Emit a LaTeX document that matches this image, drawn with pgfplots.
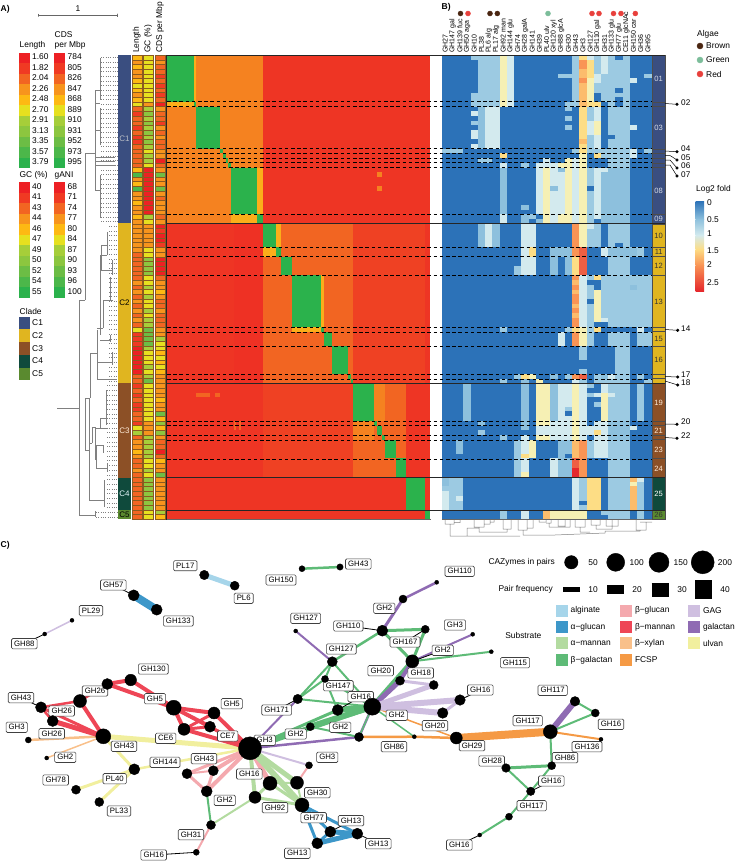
\documentclass[border=0pt]{standalone}
\usepackage{pgfplots}
\pgfplotsset{compat=1.18}
\usepackage{fontspec}
\setmainfont{Liberation Sans}
\definecolor{A0}{HTML}{ED2024}\definecolor{A1}{HTML}{F03A23}\definecolor{A2}{HTML}{F26522}\definecolor{A3}{HTML}{F7941D}
\definecolor{A4}{HTML}{FDB913}\definecolor{A5}{HTML}{E6E01F}\definecolor{A6}{HTML}{A6CE39}\definecolor{A7}{HTML}{8CC63F}
\definecolor{A8}{HTML}{6CBD45}\definecolor{A9}{HTML}{4CB74A}\definecolor{A10}{HTML}{2BB24C}
\definecolor{B0}{HTML}{2C72B8}\definecolor{B1}{HTML}{8DC0DD}\definecolor{B2}{HTML}{9CCAE2}\definecolor{B3}{HTML}{D3EAEE}
\definecolor{B4}{HTML}{F6F0B4}\definecolor{B5}{HTML}{FDDD85}\definecolor{B6}{HTML}{FCBC6C}\definecolor{B7}{HTML}{F99455}
\definecolor{B8}{HTML}{EE5F43}\definecolor{B9}{HTML}{E5282C}
\definecolor{Ca}{HTML}{3A4E80}\definecolor{Cb}{HTML}{E0B520}\definecolor{Cc}{HTML}{8C5026}\definecolor{Cd}{HTML}{0F4A3C}\definecolor{Ce}{HTML}{5A8A2F}
\definecolor{sepc}{HTML}{8A5A20}
\definecolor{hR}{HTML}{EE3524}\definecolor{hO}{HTML}{F58220}\definecolor{hM}{HTML}{F26522}\definecolor{hN}{HTML}{EF4123}\definecolor{hY}{HTML}{FBAE1A}\definecolor{hG}{HTML}{2BB24C}\definecolor{hD}{HTML}{EE3124}
\definecolor{alg}{HTML}{A6D5EA}\definecolor{agl}{HTML}{3D97C9}\definecolor{ama}{HTML}{B3DBA0}\definecolor{bga}{HTML}{5EBB77}
\definecolor{bgl}{HTML}{F4A9AE}\definecolor{bma}{HTML}{EE4656}\definecolor{bxy}{HTML}{F9C08A}\definecolor{fcs}{HTML}{F59A45}
\definecolor{gag}{HTML}{CFBFE0}\definecolor{gal}{HTML}{8F6BB3}\definecolor{ulv}{HTML}{F1EF9E}
\definecolor{dBr}{HTML}{4A2511}\definecolor{dGr}{HTML}{7CBD9A}\definecolor{dRe}{HTML}{E8403C}
\newcommand\Rect[5]{\pgfmathsetmacro\xa{#1}\pgfmathsetmacro\ya{#2}\pgfmathsetmacro\xb{#3}\pgfmathsetmacro\yb{#4}%
 \edef\tmp{\noexpand\addplot[draw=none,fill=#5,forget plot] coordinates {(\xa,\ya)(\xb,\ya)(\xb,\yb)(\xa,\yb)} -- cycle;}\tmp}
\newcommand\RectD[5]{\pgfmathsetmacro\xa{#1}\pgfmathsetmacro\ya{#2}\pgfmathsetmacro\xb{#3}\pgfmathsetmacro\yb{#4}%
 \edef\tmp{\noexpand\addplot[draw=sepc,line width=0.3pt,fill=#5,forget plot] coordinates {(\xa,\ya)(\xb,\ya)(\xb,\yb)(\xa,\yb)} -- cycle;}\tmp}
\newcommand\HA[5]{\Rect{167+2.66*(#3)}{55+4.69*(#1)}{167+2.66*(#4)}{55+4.69*(#2)}{#5}}
\newcommand\HB[5]{\Rect{441.7+7.24*(#3)}{55+4.69*(#1)}{441.7+7.24*(#4)}{55+4.69*(#2)}{#5}}
\def\cc{0}
\newcommand\bk[3]{\HB{#1}{#2}{\cc}{\cc+1}{B#3}}
\newcommand\sr[2]{\HB{#1}{#1+1}{\cc}{\cc+1}{B#2}}
\newcommand\Txt[5]{\node[anchor=#3,inner sep=0pt,font=\fontsize{#4}{#4}\selectfont] at (axis cs:#1,#2) {#5};}
\newcommand\Lab[3]{\node[draw=black!75,line width=0.6pt,fill=white,rounded corners=1.3pt,inner xsep=2.6pt,inner ysep=2.4pt,font=\fontsize{7.8}{7.8}\selectfont] at (axis cs:#2,#3) {#1};}
\newcount\rowc
\newcommand\Annot[3]{\rowc=0 \pgfplotsforeachungrouped \vv in {#3}{\RectD{#1}{55+4.69*\the\rowc}{#2}{55+4.69*(\the\rowc+1)}{A\vv}\global\advance\rowc by 1 }}
\newcommand\allnodes{}
\newcommand\Pt[4]{\expandafter\def\csname pt#1\endcsname{#2,#3}\expandafter\def\csname rd#1\endcsname{#4}\expandafter\def\expandafter\allnodes\expandafter{\allnodes\Dn{#1}}}
\newcommand\Dn[1]{\edef\tmp{\noexpand\addplot[only marks,mark=*,mark size=\csname rd#1\endcsname pt,black,forget plot] coordinates {(\csname pt#1\endcsname)};}\tmp}
\newcommand\Ed[4]{\edef\tmp{\noexpand\addplot[color=#1,line width=#2pt,forget plot] coordinates {(\csname pt#3\endcsname)(\csname pt#4\endcsname)};}\tmp}
\newcommand\Ld[3]{\edef\tmp{\noexpand\addplot[color=black,line width=0.8pt,forget plot] coordinates {(#2,#3)(\csname pt#1\endcsname)};}\tmp}
\Pt{pls}{204.3}{575}{4.7}\Pt{psx}{234.7}{585.7}{4.5}\Pt{g150}{302}{568.7}{3}\Pt{g43t}{340}{567}{3.2}
\Pt{g57}{133.7}{595.3}{5.5}\Pt{g133}{156.7}{609.7}{5.5}\Pt{p29}{72}{620.3}{2}\Pt{g88}{44.7}{634}{2}
\Pt{g130}{130.7}{680}{5.8}\Pt{g26a}{107.3}{684}{5.5}\Pt{g26b}{80}{701}{6.5}\Pt{g43l}{41}{707.3}{5.5}
\Pt{g26c}{52.7}{721}{5.5}\Pt{hubl}{103.3}{736.3}{7.5}\Pt{g3s}{28.3}{740}{3}\Pt{g2s}{46.7}{758}{2}
\Pt{g5}{173.7}{707.7}{7.5}\Pt{g5b}{214}{713}{6}\Pt{ce7}{210}{726.7}{5.5}\Pt{ce6}{184}{729.3}{6}
\Pt{hub}{250}{748.3}{11.5}\Pt{p40}{134.3}{769.3}{5.5}\Pt{g78}{76}{789.7}{4.5}\Pt{p33}{99.3}{802}{4.5}
\Pt{g144}{187}{773.7}{5}\Pt{g43c}{213.3}{770.7}{5}\Pt{g2b}{206.7}{791.3}{5.5}\Pt{g31}{211}{825}{4.5}
\Pt{g16bot}{196.3}{852.3}{3}\Pt{g92}{255}{797.3}{6}\Pt{g16b}{270}{783.3}{7}\Pt{g30}{297}{782.7}{6.5}
\Pt{g3c}{309}{765.3}{3.5}\Pt{g77}{302}{805}{7}\Pt{g13a}{330.3}{831.7}{5.5}\Pt{g13b}{357.3}{833.7}{5.5}
\Pt{g13c}{317.3}{843.3}{5.5}\Pt{g171}{297.7}{699}{4.7}\Pt{g127b}{332.3}{661.7}{5}\Pt{g127a}{295.7}{631}{2}
\Pt{g147}{325}{679}{3.5}\Pt{g2c}{337.7}{710}{5.5}\Pt{hubm}{372.3}{706.7}{8.5}\Pt{g2d}{310.3}{726.7}{4}\Pt{g2e}{359}{737}{4.5}
\Pt{g110t}{436.7}{582.3}{2}\Pt{g2t}{403}{599}{4}\Pt{g110}{382.3}{630.7}{5.5}\Pt{g167}{425.3}{629.3}{4}
\Pt{g3r}{472.7}{634.3}{2}\Pt{g2h}{412.3}{661.3}{6.5}\Pt{g115}{491.3}{651.7}{2}\Pt{g20}{400}{680.7}{4.5}
\Pt{g18}{433.7}{685}{4.5}\Pt{g16}{460}{700}{5.3}\Pt{g20b}{442.7}{713}{5.3}\Pt{g86}{414.3}{736.7}{2}
\Pt{g29}{456.3}{738}{6}\Pt{g117a}{550.3}{731.7}{7}\Pt{g117b}{575}{701.3}{4.8}\Pt{g16r}{595.3}{713}{4}
\Pt{g136}{601}{739.3}{2}\Pt{g86r}{551.7}{765.7}{4}\Pt{g28}{506}{768}{4.3}\Pt{g16c}{530.7}{791.3}{4.2}
\Pt{g117c}{509}{816.7}{3.5}\Pt{g16d}{479.7}{835}{2}
\begin{document}
\begin{tikzpicture}
\path[use as bounding box] (0,0) rectangle (735pt,863pt);
\begin{axis}[at={(0,0)},anchor=south west,width=735pt,height=863pt,scale only axis,hide axis,clip=false,
 xmin=0,xmax=735,ymin=0,ymax=863,y dir=reverse]
% ---------- heatmap A
\HA{0}{99}{0}{99}{hR}
\HA{0}{36}{0}{36}{hO}
\HA{36}{70}{25}{36}{hD}
\HA{36}{70}{36}{70}{hM}
\HA{36}{70}{70}{99}{hN}
\HA{70}{90}{36}{70}{hN}
\HA{70}{90}{70}{90}{hM}
\HA{97}{99}{0}{97}{hR}
\HA{0}{99}{97}{99}{hR}
% neighbour blocks
\HA{10}{11}{0}{10}{hY}\HA{0}{10}{10}{11}{hY}
\HA{34}{36}{24}{34}{hY}\HA{24}{34}{34}{36}{hY}
\HA{41}{43}{36}{41}{hY}\HA{36}{41}{41}{43}{hY}
\HA{58}{59}{47}{58}{hY}\HA{47}{58}{58}{59}{hY}
\HA{78}{82}{70}{78}{hO}\HA{70}{78}{78}{82}{hO}
\HA{25}{26}{79}{81}{hO}\HA{28}{29}{79}{81}{hO}
\HA{72}{73}{11}{16}{hM}\HA{72}{73}{18}{20}{hM}
\HA{78}{80}{25}{26}{hM}\HA{78}{80}{27}{28}{hM}
% diagonal
\def\dg#1#2{\HA{#1}{#2}{#1}{#2}{hG}}
\dg{0}{10}\dg{10}{11}\dg{11}{20}\dg{20}{21}\dg{21}{22}\dg{22}{23}\dg{23}{24}\dg{24}{34}\dg{34}{36}
\dg{36}{41}\dg{41}{43}\dg{43}{47}\dg{47}{58}\dg{58}{59}\dg{59}{62}\dg{62}{68}\dg{68}{69}\dg{69}{70}
\dg{70}{78}\dg{78}{79}\dg{79}{81}\dg{81}{82}\dg{82}{86}\dg{86}{90}\dg{90}{97}\dg{97}{99}
% ---------- heatmap B
\HB{0}{99}{0}{29}{B0}
\def\cc{0}\sr{20}{2}\bk{90}{92}{1}\sr{92}{2}\bk{93}{97}{3}
\def\cc{1}\sr{20}{2}\bk{90}{97}{2}
\def\cc{2}\sr{20}{2}\bk{90}{97}{2}\sr{94}{3}\bk{82}{85}{1}
\def\cc{3}\bk{70}{78}{1}
\def\cc{4}\sr{0}{2}\bk{8}{11}{2}\sr{12}{3}\sr{14}{2}\bk{16}{18}{3}\sr{19}{3}
\def\cc{5}\bk{0}{11}{2}\bk{11}{20}{1}\sr{22}{2}\bk{36}{41}{1}\sr{78}{1}\sr{80}{2}
\def\cc{6}\bk{0}{11}{2}\bk{11}{20}{3}\sr{22}{2}\bk{36}{41}{3}
\def\cc{7}\bk{0}{11}{2}\bk{11}{20}{3}\bk{36}{41}{1}
\def\cc{8}\bk{0}{11}{4}\sr{21}{5}\sr{23}{3}\bk{24}{34}{1}\bk{34}{36}{3}\sr{58}{2}\sr{69}{2}\sr{81}{2}\bk{97}{99}{2}
\def\cc{9}\bk{0}{11}{3}
\def\cc{10}\bk{45}{47}{2}\sr{68}{2}\bk{82}{90}{2}
\def\cc{11}\sr{23}{2}\sr{32}{1}\bk{34}{36}{1}\bk{36}{47}{3}\sr{68}{5}\sr{69}{1}\bk{70}{80}{1}\sr{81}{3}\bk{82}{90}{3}\sr{85}{5}\sr{89}{4}\bk{97}{99}{3}
\def\cc{12}\sr{34}{2}\bk{36}{41}{3}\bk{41}{43}{5}\bk{43}{47}{3}\sr{68}{4}\bk{82}{86}{4}
\def\cc{13}\sr{23}{3}\bk{24}{34}{3}\sr{35}{1}\sr{69}{4}\bk{70}{82}{4}\bk{79}{81}{3}
\def\cc{14}\bk{22}{24}{3}\bk{24}{36}{4}\bk{70}{79}{4}\bk{79}{81}{3}\sr{81}{4}\bk{97}{99}{6}
\def\cc{15}\sr{23}{3}\bk{24}{36}{3}\sr{28}{1}\bk{41}{47}{1}\sr{68}{1}\bk{70}{78}{1}\bk{78}{82}{3}\bk{86}{90}{3}\bk{97}{99}{4}
\def\cc{16}\sr{4}{2}\sr{23}{4}\sr{24}{1}\bk{25}{34}{3}\bk{34}{36}{4}\bk{41}{43}{1}\bk{59}{62}{3}\bk{70}{82}{3}\bk{82}{90}{1}\bk{97}{99}{4}
\def\cc{17}\sr{4}{2}\sr{10}{2}\sr{11}{2}\sr{13}{2}\sr{15}{2}\bk{22}{36}{4}\bk{41}{47}{1}\sr{58}{2}\sr{68}{2}\bk{70}{75}{3}\sr{75}{2}\sr{77}{3}\bk{78}{82}{3}\bk{82}{85}{1}\bk{86}{90}{1}\bk{97}{99}{4}
\def\cc{18}\bk{0}{11}{2}\sr{20}{2}\bk{22}{24}{3}\bk{24}{36}{3}\bk{36}{43}{7}\bk{43}{47}{5}\bk{47}{58}{7}\sr{48}{6}\sr{50}{6}\sr{53}{6}\sr{55}{6}\sr{58}{5}\bk{59}{62}{7}\sr{68}{7}\sr{69}{3}\bk{70}{82}{4}\bk{82}{86}{6}\bk{86}{88}{8}\bk{88}{90}{9}\bk{90}{97}{3}\bk{97}{99}{4}
\def\cc{19}\bk{0}{11}{6}\sr{0}{5}\bk{1}{3}{7}\sr{5}{7}\bk{11}{21}{5}\sr{18}{6}\bk{21}{41}{4}\bk{41}{47}{8}\bk{47}{58}{3}\sr{58}{4}\bk{59}{62}{4}\bk{62}{65}{2}\sr{67}{2}\sr{68}{8}\sr{69}{2}\bk{70}{82}{3}\bk{82}{90}{7}\bk{90}{95}{2}\sr{96}{2}\bk{97}{99}{4}
\def\cc{20}\sr{0}{3}\bk{1}{5}{5}\bk{5}{10}{4}\sr{10}{5}\bk{11}{21}{2}\bk{14}{17}{3}\bk{24}{28}{2}\bk{29}{36}{2}\sr{36}{3}\bk{37}{41}{2}\sr{47}{2}\bk{49}{52}{2}\bk{53}{59}{2}\bk{59}{62}{2}\sr{70}{2}\sr{72}{2}\bk{79}{81}{3}\bk{82}{86}{2}\bk{90}{97}{5}
\def\cc{21}\bk{0}{4}{2}\bk{4}{6}{3}\bk{6}{8}{2}\sr{10}{5}\bk{11}{20}{3}\bk{14}{17}{4}\sr{20}{2}\sr{21}{5}\bk{24}{35}{3}\bk{36}{41}{2}\sr{47}{5}\bk{50}{57}{4}\sr{58}{5}\bk{68}{70}{2}\sr{72}{3}\sr{74}{2}\bk{78}{82}{3}\sr{80}{5}\bk{82}{86}{3}\bk{90}{97}{5}
\def\cc{22}\bk{0}{4}{3}\bk{4}{10}{2}\bk{20}{22}{2}\bk{24}{36}{1}\sr{24}{3}\bk{41}{43}{3}\bk{47}{57}{2}\sr{56}{3}\sr{68}{1}\sr{69}{2}\bk{70}{82}{3}\bk{72}{78}{4}\bk{82}{86}{3}\sr{97}{2}
\def\cc{23}\bk{0}{17}{2}\bk{18}{24}{2}\bk{24}{36}{1}\bk{36}{41}{2}\bk{41}{43}{1}\bk{43}{58}{2}\bk{59}{62}{2}\sr{68}{3}\sr{69}{2}\bk{70}{78}{2}\sr{72}{3}\bk{78}{82}{1}\bk{82}{99}{2}
\def\cc{24}\bk{1}{7}{2}\sr{8}{2}\bk{11}{24}{2}\bk{24}{36}{1}\bk{36}{40}{2}\bk{41}{43}{1}\bk{43}{58}{2}\bk{59}{70}{2}\bk{70}{78}{2}\bk{78}{82}{1}\bk{82}{99}{2}
\def\cc{25}\bk{0}{24}{2}\bk{24}{36}{1}\bk{36}{41}{2}\bk{41}{43}{1}\bk{43}{58}{2}\bk{59}{70}{2}\bk{70}{78}{2}\bk{78}{82}{1}\bk{82}{99}{2}
\def\cc{26}\sr{5}{3}\sr{15}{3}\sr{20}{3}\sr{21}{3}\bk{41}{43}{1}\bk{47}{49}{2}\sr{49}{1}\bk{50}{58}{2}\sr{79}{3}\bk{90}{97}{6}\sr{91}{4}
\def\cc{27}\bk{41}{43}{2}\bk{47}{58}{2}\sr{58}{3}\bk{59}{62}{2}\sr{68}{2}\bk{70}{78}{2}\sr{90}{3}\bk{91}{99}{2}
\def\cc{28}\sr{4}{2}\sr{20}{2}\bk{47}{58}{2}\bk{59}{62}{2}\sr{69}{2}
% ---------- annotation columns
\Annot{131.7}{141.7}{4,3,4,3,3,4,5,4,3,4,5,2,1,2,2,1,2,1,1,2,2,2,2,2,4,9,3,4,9,3,3,4,3,3,4,3,3,3,3,3,3,3,2,2,2,2,2,2,3,2,3,2,3,2,3,2,3,2,5,1,1,1,0,0,0,0,0,0,2,2,1,2,1,2,1,1,2,2,1,5,6,2,3,3,4,3,2,2,3,2,2,2,2,2,2,2,2,2,2}
\Annot{143.3}{153.3}{5,5,5,5,5,5,5,5,5,5,3,6,7,6,7,6,7,6,7,6,5,6,6,5,0,0,0,0,0,0,0,0,0,0,6,5,3,3,3,3,3,5,5,7,7,7,7,5,5,6,5,6,5,5,6,5,6,6,8,8,8,8,6,5,5,5,6,5,6,8,5,5,5,5,5,5,5,5,3,3,3,6,6,6,6,6,5,5,6,5,7,7,7,7,7,7,7,5,5}
\Annot{155}{165}{2,3,2,2,1,2,1,2,1,2,0,3,2,2,1,3,2,3,2,2,3,3,0,2,3,8,3,3,8,3,2,3,3,3,2,3,0,1,0,0,1,3,3,0,0,0,0,2,3,3,4,3,2,2,3,2,2,2,3,3,6,5,5,4,5,4,5,4,3,3,3,3,3,4,3,3,8,4,7,4,7,3,2,2,0,2,4,3,3,8,3,3,3,3,3,3,3,6,4}
% ---------- clade bar
\Rect{118}{55}{131}{223.3}{Ca}\Rect{118}{223.3}{131}{383.3}{Cb}\Rect{118}{383.3}{131}{477.7}{Cc}\Rect{118}{477.7}{131}{510.3}{Cd}\Rect{118}{510.3}{131}{519.3}{Ce}
% ---------- right bars
\newcommand\RB[3]{\pgfmathsetmacro\xa{652.3}\pgfmathsetmacro\ya{55+4.69*(#1)}\pgfmathsetmacro\yb{55+4.69*(#2)}\edef\tmp{\noexpand\addplot[draw=black!70,line width=0.5pt,fill=#3,forget plot] coordinates {(\xa,\ya)(665,\ya)(665,\yb)(\xa,\yb)} -- cycle;}\tmp}
\RB{0}{10}{Ca}\RB{10}{11}{Ca}\RB{11}{20}{Ca}\RB{20}{21}{Ca}\RB{21}{22}{Ca}\RB{22}{23}{Ca}\RB{23}{24}{Ca}\RB{24}{34}{Ca}\RB{34}{36}{Ca}
\RB{36}{41}{Cb}\RB{41}{43}{Cb}\RB{43}{47}{Cb}\RB{47}{58}{Cb}\RB{58}{59}{Cb}\RB{59}{62}{Cb}\RB{62}{68}{Cb}\RB{68}{69}{Cb}\RB{69}{70}{Cb}
\RB{70}{78}{Cc}\RB{78}{79}{Cc}\RB{79}{81}{Cc}\RB{81}{82}{Cc}\RB{82}{86}{Cc}\RB{86}{90}{Cc}\RB{90}{97}{Cd}\RB{97}{99}{Ce}
% ---------- tree
\addplot[color=black!50,line width=0.6pt,unbounded coords=jump,forget plot] coordinates {
(100,58)(100,100)(nan,nan)(95,90)(100,90)(nan,nan)(95,103)(100,103)(nan,nan)(95,90)(95,190)(nan,nan)(100,108)(100,145)(nan,nan)(95,130)(100,130)(nan,nan)
(95,157)(115,157)(nan,nan)(95,161)(115,161)(nan,nan)(95,165)(115,165)(nan,nan)(85,153)(95,153)(nan,nan)(85,153)(85,300)(nan,nan)(79,300)(85,300)(nan,nan)(79,300)(79,515)(nan,nan)
(57,408)(79,408)(nan,nan)(95,190)(100,190)(nan,nan)(100,175)(100,218)(nan,nan)
(107,232)(107,255)(nan,nan)(101,245)(107,245)(nan,nan)(101,245)(101,270)(nan,nan)(101,270)(112,270)(nan,nan)(112,260)(112,275)(nan,nan)
(100,255)(107,255)(nan,nan)(100,255)(100,335)(nan,nan)(97,330)(97,380)(nan,nan)(97,328)(103,328)(nan,nan)(103,300)(103,328)(nan,nan)(103,300)(113,300)(nan,nan)(110,277)(110,300)(nan,nan)
(100,340)(110,340)(nan,nan)(110,335)(110,342)(nan,nan)(97,362)(112,362)(nan,nan)(112,352)(112,365)(nan,nan)(90,353)(97,353)(nan,nan)(90,353)(90,398)(nan,nan)(97,379)(117,379)(nan,nan)
(85,398)(90,398)(nan,nan)(85,398)(85,450)(nan,nan)(85,450)(89,450)(nan,nan)(89,398)(89,500)(nan,nan)(89,500)(104,500)(nan,nan)(104,480)(104,507)(nan,nan)
(92,427)(92,443)(nan,nan)(89,443)(92,443)(nan,nan)(92,427)(95,427)(nan,nan)(95,427)(95,460)(nan,nan)(100,418)(100,428)(nan,nan)(100,418)(106,418)(nan,nan)(106,390)(106,425)(nan,nan)(95,428)(107,428)(nan,nan)
(95,445)(103,445)(nan,nan)(103,445)(103,453)(nan,nan)(96,445)(96,468)(nan,nan)(96,468)(107,468)(nan,nan)(107,463)(107,472)(nan,nan)(79,515)(95,515)(nan,nan)(95,511)(95,517)};
\pgfplotsforeachungrouped \r in {0,...,35}{\pgfmathsetmacro\yy{57.3+4.69*\r}\edef\tmp{\noexpand\addplot[color=black!50,line width=0.35pt,dash pattern=on 1pt off 1.3pt,forget plot] coordinates {(101,\yy)(117.5,\yy)};}\tmp}
\pgfplotsforeachungrouped \r in {36,...,69}{\pgfmathsetmacro\yy{57.3+4.69*\r}\edef\tmp{\noexpand\addplot[color=black!50,line width=0.35pt,dash pattern=on 1pt off 1.3pt,forget plot] coordinates {(109,\yy)(117.5,\yy)};}\tmp}
\pgfplotsforeachungrouped \r in {70,...,96}{\pgfmathsetmacro\yy{57.3+4.69*\r}\edef\tmp{\noexpand\addplot[color=black!50,line width=0.35pt,dash pattern=on 1pt off 1.3pt,forget plot] coordinates {(107,\yy)(117.5,\yy)};}\tmp}
\pgfplotsforeachungrouped \r in {97,98}{\pgfmathsetmacro\yy{57.3+4.69*\r}\edef\tmp{\noexpand\addplot[color=black!50,line width=0.35pt,dash pattern=on 1pt off 1.3pt,forget plot] coordinates {(96,\yy)(117.5,\yy)};}\tmp}
% ---------- dendrogram
\addplot[color=black!50,line width=0.5pt,unbounded coords=jump,forget plot] coordinates {
(445,520)(445,524)(454,524)(454,520)(nan,nan)(454,522.5)(460,522.5)(460,520)(nan,nan)(450,524)(450,536)(467,536)(467,528)(467,536)(520,536)(nan,nan)
(474,520)(474,527)(484,527)(484,520)(nan,nan)(484,524)(490,524)(490,520)(nan,nan)(490,522)(494,522)(494,520)(nan,nan)(479,527)(479,532)(507,532)(507,529)(nan,nan)
(503,520)(503,529)(511,529)(511,520)(nan,nan)(467,528)(479,528)(nan,nan)
(518,520)(518,530)(527,530)(527,520)(nan,nan)(527,528)(533,528)(533,520)(nan,nan)(523,530)(523,535)(555,535)(nan,nan)
(539,520)(539,522)(546,522)(546,520)(nan,nan)(546,523)(551,523)(551,520)(nan,nan)(549,523)(549,527)(565,527)(565,522)(nan,nan)(558,520)(558,526)(565,526)(565,520)(nan,nan)(565,527)(570,527)(570,520)(nan,nan)
(575,520)(575,527)(585,527)(585,520)(nan,nan)(580,527)(580,532)(590,532)(nan,nan)(591,520)(591,525)(600,525)(600,520)(nan,nan)(596,525)(596,529)(612,529)(612,520)(nan,nan)(606,520)(606,526)(618,526)(618,520)(nan,nan)
(555,535)(605,533)(605,531)(640,531)(nan,nan)(636,520)(636,530)(646,530)(646,522)(nan,nan)(640,522)(652,522)(nan,nan)(640,530)(640,531)};
% ---------- dashed and solid lines
\pgfplotsforeachungrouped \yy in {101.7,106.7,148.3,153.3,158,162.7,167.3,214.3,247.3,256.7,275.3,327.3,332,346,374.3,379,421.7,425.7,435.7,440,459}{\edef\tmp{\noexpand\addplot[color=black,line width=0.6pt,dash pattern=on 3.6pt off 2.6pt,forget plot] coordinates {(167,\yy)(652,\yy)};}\tmp}
\pgfplotsforeachungrouped \yy in {55,223.3,383.3,477.7,510.3}{\edef\tmp{\noexpand\addplot[color=black!85,line width=0.9pt,forget plot] coordinates {(166.5,\yy)(665,\yy)};}\tmp}
\addplot[color=black!60,line width=0.8pt,forget plot] coordinates {(166.5,519.6)(431,519.6)};
\addplot[color=black!60,line width=0.8pt,forget plot] coordinates {(441.7,519.6)(652,519.6)};
\addplot[color=black!85,line width=0.7pt,forget plot] coordinates {(166.5,55)(166.5,519.6)};
% bar labels
\node[font=\fontsize{8}{8}\selectfont,text=Cb!15!Ca!40!white] at (axis cs:124.5,139) {C1};
\Txt{124.5}{303}{center}{8}{C2}
\node[font=\fontsize{8}{8}\selectfont,text=white!85!orange] at (axis cs:124.5,431) {C3};
\node[font=\fontsize{8}{8}\selectfont,text=white!90!cyan] at (axis cs:124.5,494) {C4};
\Txt{124.5}{515}{center}{8}{C5}
\newcommand\BL[3]{\node[font=\fontsize{7.6}{7.6}\selectfont,text=#3] at (axis cs:658.7,#1) {#2};}
\BL{78.5}{01}{white!80!Ca}\BL{127.5}{03}{white!80!Ca}\BL{191}{08}{white!80!Ca}\BL{219}{09}{white!80!Ca}
\BL{235.5}{10}{black!80}\BL{252}{11}{black!80}\BL{266}{12}{black!80}\BL{301.5}{13}{black!80}\BL{339}{15}{black!80}\BL{360}{16}{black!80}
\BL{402.5}{19}{white!85!orange}\BL{430.5}{21}{white!85!orange}\BL{449.5}{23}{white!85!orange}\BL{468.5}{24}{white!85!orange}\BL{494}{25}{white}\BL{515}{26}{black!80}
% right leaders
\addplot[black,line width=0.5pt,forget plot] coordinates {(665,103.5)(677,104.3)};
\addplot[black,line width=0.5pt,forget plot] coordinates {(665,151)(677,151.7)};
\addplot[black,line width=0.5pt,forget plot] coordinates {(665,155.5)(670,155.5)(677,160)};
\addplot[black,line width=0.5pt,forget plot] coordinates {(665,160)(670,160)(677,168)};
\addplot[black,line width=0.5pt,forget plot] coordinates {(665,165)(670,165)(677,176)};
\addplot[black,line width=0.5pt,forget plot] coordinates {(665,329.5)(677.7,330.3)};
\addplot[black,line width=0.5pt,forget plot] coordinates {(665,376.5)(677.7,377)};
\addplot[black,line width=0.5pt,forget plot] coordinates {(665,381)(677.7,385)};
\addplot[black,line width=0.5pt,forget plot] coordinates {(665,424)(677,424.3)};
\addplot[black,line width=0.5pt,forget plot] coordinates {(665,437.5)(677,438.3)};
\addplot[only marks,mark=*,mark size=1.4pt,black,forget plot] coordinates {(677,104.3)(677,151.7)(677,160)(677,168)(677,176)(677.7,330.3)(677.7,377)(677.7,385)(677,424.3)(677,438.3)};
\Txt{681}{102.5}{west}{8.2}{02}\Txt{681}{149}{west}{8.2}{04}\Txt{681}{158}{west}{8.2}{05}\Txt{681}{166}{west}{8.2}{06}\Txt{681}{175}{west}{8.2}{07}
\Txt{681}{329}{west}{8.2}{14}\Txt{681}{375}{west}{8.2}{17}\Txt{681}{383}{west}{8.2}{18}\Txt{681}{422}{west}{8.2}{20}\Txt{681}{436}{west}{8.2}{22}
% ---------- panel letters, scale
\node[anchor=west,inner sep=0pt,font=\fontsize{8.5}{8.5}\selectfont\bfseries] at (axis cs:0.5,9) {A)};
\node[anchor=west,inner sep=0pt,font=\fontsize{8.5}{8.5}\selectfont\bfseries] at (axis cs:441.5,7.5) {B)};
\node[anchor=west,inner sep=0pt,font=\fontsize{8.5}{8.5}\selectfont\bfseries] at (axis cs:0.5,545) {C)};
\addplot[color=black!60,line width=0.6pt,forget plot] coordinates {(38.5,13.5)(38.5,16.5)(38.5,15)(117,15)(117,13.5)(117,16.5)};
\Txt{78}{9}{center}{8.4}{1}
% ---------- left legends
\pgfplotsforeachungrouped \i in {0,...,10}{\Rect{19}{52.7+10.5*\i}{30}{52.7+10.5*(\i+1)}{A\i}\Rect{54}{52.7+10.5*\i}{65}{52.7+10.5*(\i+1)}{A\i}\Rect{19}{182+10.5*\i}{30}{182+10.5*(\i+1)}{A\i}\Rect{54}{182+10.5*\i}{65}{182+10.5*(\i+1)}{A\i}}
\Txt{19.5}{45.5}{west}{8.4}{Length}\Txt{54.5}{35}{west}{8.4}{CDS}\Txt{54.5}{45.5}{west}{8.4}{per Mbp}
\Txt{19.5}{175}{west}{8.4}{GC (\%)}\Txt{54.5}{175}{west}{8.4}{gANI}
\newcommand\LL[3]{\Txt{#1}{#2}{west}{8.4}{#3}}
\LL{32}{57}{1.60}\LL{32}{67.5}{1.82}\LL{32}{78}{2.04}\LL{32}{88.5}{2.26}\LL{32}{99}{2.48}\LL{32}{109.5}{2.70}\LL{32}{120}{2.91}\LL{32}{130.5}{3.13}\LL{32}{141}{3.35}\LL{32}{151.5}{3.57}\LL{32}{162}{3.79}
\LL{67.5}{57}{784}\LL{67.5}{67.5}{805}\LL{67.5}{78}{826}\LL{67.5}{88.5}{847}\LL{67.5}{99}{868}\LL{67.5}{109.5}{889}\LL{67.5}{120}{910}\LL{67.5}{130.5}{931}\LL{67.5}{141}{952}\LL{67.5}{151.5}{973}\LL{67.5}{162}{995}
\LL{32}{186.5}{40}\LL{32}{197}{41}\LL{32}{207.5}{43}\LL{32}{218}{44}\LL{32}{228.5}{46}\LL{32}{239}{47}\LL{32}{249.5}{49}\LL{32}{260}{50}\LL{32}{270.5}{52}\LL{32}{281}{54}\LL{32}{291.5}{55}
\LL{67.5}{186.5}{68}\LL{67.5}{197}{71}\LL{67.5}{207.5}{74}\LL{67.5}{218}{77}\LL{67.5}{228.5}{80}\LL{67.5}{239}{84}\LL{67.5}{249.5}{87}\LL{67.5}{260}{90}\LL{67.5}{270.5}{93}\LL{67.5}{281}{96}\LL{67.5}{291.5}{100}
\Txt{19.5}{311}{west}{8.4}{Clade}
\Rect{19}{316.5}{30}{329}{Ca}\Rect{19}{329}{30}{342}{Cb}\Rect{19}{342}{30}{355}{Cc}\Rect{19}{355}{30}{367.5}{Cd}\Rect{19}{367.5}{30}{380}{Ce}
\LL{32}{323}{C1}\LL{32}{336}{C2}\LL{32}{349}{C3}\LL{32}{361}{C4}\LL{32}{374}{C5}
% rotated headers
\newcommand\RT[3]{\node[rotate=90,anchor=west,inner sep=0pt,font=\fontsize{#2}{#2}\selectfont] at (axis cs:#1,53) {#3};}
\RT{136.7}{8.4}{Length}\RT{148.3}{8.4}{GC (\%)}\RT{160}{8.4}{CDS per Mbp}
\newcommand\CL[2]{\pgfmathsetmacro\xx{441.7+7.24*(#1+0.5)}\edef\tmp{\noexpand\RT{\xx}{7}{#2}}\tmp}
\CL{0}{GH27}\CL{1}{GH147 gal}\CL{2}{GH139 fuc}\CL{3}{GH50 aga}\CL{4}{GH10}\CL{5}{PL38}\CL{6}{PL6 alg}\CL{7}{PL17 alg}\CL{8}{GH92 man}\CL{9}{GH144 glu}\CL{10}{GH74}\CL{11}{GH28 galA}\CL{12}{GH141}\CL{13}{GH39}\CL{14}{PL40 ulv}\CL{15}{GH120 xyl}\CL{16}{GH88 glcA}\CL{17}{GH30}\CL{18}{GH43}\CL{19}{GH3}\CL{20}{GH127}\CL{21}{GH110 gal}\CL{22}{GH31}\CL{23}{GH133 glu}\CL{24}{GH77 glu}\CL{25}{CE11 glcNAc}\CL{26}{GH150 car}\CL{27}{GH36}\CL{28}{GH95}
% algae dots
\addplot[only marks,mark=*,mark size=2.5pt,color=dBr,forget plot] coordinates {(460.5,13.5)(490,13.5)(497.3,13.5)};
\addplot[only marks,mark=*,mark size=2.5pt,color=dGr,forget plot] coordinates {(548,13.5)};
\addplot[only marks,mark=*,mark size=2.5pt,color=dRe,forget plot] coordinates {(468,13.5)(592,13.5)(599,13.5)(613.5,13.5)(621,13.5)(635.3,13.5)};
\Txt{697}{34}{west}{8.4}{Algae}
\addplot[only marks,mark=*,mark size=3pt,color=dBr,forget plot] coordinates {(700,46)};
\addplot[only marks,mark=*,mark size=3pt,color=dGr,forget plot] coordinates {(700,60)};
\addplot[only marks,mark=*,mark size=3pt,color=dRe,forget plot] coordinates {(700,74)};
\Txt{706}{46}{west}{8.4}{Brown}\Txt{706}{60}{west}{8.4}{Green}\Txt{706}{74}{west}{8.4}{Red}
% colour bar
\Txt{696}{189}{west}{8.4}{Log2 fold}
\newcommand\GB[4]{\addplot[draw=none,top color=#3,bottom color=#4,forget plot] coordinates {(695.5,#1)(704,#1)(704,#2)(695.5,#2)} -- cycle;}
\GB{201}{219.3}{B0}{B1}\GB{219}{235.3}{B1}{B3}\GB{235}{249.3}{B3}{B5}\GB{249}{265.3}{B5}{B7}\GB{265}{291}{B7}{B9}
\Txt{707}{203}{west}{8.4}{0}\Txt{707}{220}{west}{8.4}{0.5}\Txt{707}{234}{west}{8.4}{1}\Txt{707}{251}{west}{8.4}{1.5}\Txt{707}{265}{west}{8.4}{2}\Txt{707}{283}{west}{8.4}{2.5}
% ---------- network edges
\Ed{alg}{5}{pls}{psx}\Ed{bga}{2.5}{g150}{g43t}\Ed{agl}{8}{g57}{g133}\Ed{gag}{1.5}{p29}{g88}
\Ed{bxy}{2.5}{g3s}{hubl}\Ed{bxy}{1.5}{g2s}{hubl}\Ed{ulv}{5}{hubl}{hub}\Ed{ulv}{3}{hubl}{p40}\Ed{ulv}{2.5}{p40}{hub}\Ed{ulv}{3}{p40}{g78}\Ed{ulv}{3}{p40}{p33}
\Ed{bma}{4}{g130}{g26a}\Ed{bma}{4}{g130}{g5}\Ed{bma}{4}{g26a}{g5}\Ed{bma}{2.5}{g26a}{g26b}\Ed{bma}{2.5}{g26b}{g43l}\Ed{bma}{2.5}{g43l}{g26c}\Ed{bma}{4}{g26b}{hubl}\Ed{bma}{3}{g43l}{hubl}\Ed{bma}{5}{g26c}{hubl}
\Ed{bma}{4}{g5}{g5b}\Ed{bma}{4}{g5}{ce7}\Ed{bma}{4}{g5}{ce6}\Ed{bma}{4}{g5b}{hub}\Ed{bma}{3}{g5b}{ce6}\Ed{bma}{3}{ce6}{ce7}\Ed{bma}{4}{ce6}{hub}\Ed{bma}{3}{ce7}{hub}\Ed{bma}{3}{g5}{hub}
\Ed{bgl}{3}{hub}{g144}\Ed{bgl}{4}{hub}{g43c}\Ed{bgl}{4}{hub}{g2b}\Ed{bgl}{2}{g144}{g43c}\Ed{bgl}{3}{g144}{g2b}\Ed{bgl}{3}{g43c}{g2b}\Ed{bga}{2}{g2b}{g31}\Ed{bgl}{2}{g31}{g16bot}\Ed{ama}{2}{g31}{g92}
\Ed{ama}{4}{hub}{g92}\Ed{bgl}{5}{hub}{g16b}\Ed{ama}{5}{hub}{g30}\Ed{ama}{6}{hub}{g77}\Ed{ama}{3}{g92}{g16b}\Ed{ama}{3}{g92}{g77}\Ed{ama}{3}{g16b}{g77}\Ed{ama}{2}{g16b}{g30}\Ed{ama}{2}{g30}{g77}
\Ed{gag}{2}{hub}{g3c}\Ed{bgl}{2}{g3c}{g30}
\Ed{agl}{3}{g77}{g13a}\Ed{agl}{3}{g77}{g13b}\Ed{agl}{3}{g77}{g13c}\Ed{agl}{5}{g13a}{g13b}\Ed{agl}{3}{g13a}{g13c}\Ed{agl}{5}{g13c}{g13b}
\Ed{gal}{2}{hub}{g171}\Ed{bga}{2}{g171}{g127b}\Ed{bga}{2}{g171}{hubm}\Ed{bga}{2}{g171}{g147}\Ed{gal}{2}{g127a}{g127b}\Ed{bga}{2.5}{g127b}{g110}\Ed{bga}{2}{g127b}{g147}\Ed{bga}{2}{g127b}{hubm}\Ed{bga}{2}{g147}{g2c}\Ed{bga}{2}{g147}{hubm}
\Ed{bga}{3}{hub}{g2c}\Ed{bga}{3}{hub}{g2d}\Ed{bga}{5}{hub}{hubm}\Ed{bga}{6}{g2c}{hubm}\Ed{bga}{6}{g2d}{hubm}\Ed{gal}{2.5}{hub}{g2e}\Ed{gal}{2.5}{g2e}{hubm}\Ed{bga}{2}{g2d}{g2e}\Ed{bga}{1.5}{g2e}{hubm}
\Ed{fcs}{2.5}{g2e}{g86}\Ed{fcs}{2.5}{g86}{g29}\Ed{fcs}{1.5}{hubm}{g29}\Ed{bga}{1.5}{hubm}{g86}
\Ed{bga}{5}{hubm}{g2h}\Ed{gal}{5}{hubm}{g20}\Ed{gal}{4}{g20}{g2h}\Ed{gag}{5}{hubm}{g18}\Ed{gag}{3}{g20}{g18}\Ed{gag}{6}{hubm}{g16}\Ed{gag}{6}{hubm}{g20b}\Ed{gag}{3}{g16}{g20b}
\Ed{gal}{3}{g110}{g2t}\Ed{gal}{2.5}{g2t}{g110t}\Ed{bga}{3}{g110}{g167}\Ed{bga}{3}{g110}{g2h}\Ed{bga}{3}{g167}{g2h}\Ed{gal}{2}{g2h}{g3r}\Ed{bga}{2}{g2h}{g115}
\Ed{fcs}{8}{g29}{g117a}\Ed{fcs}{2}{g117a}{g136}\Ed{gal}{6}{g117a}{g117b}\Ed{bga}{2}{g117b}{g16r}\Ed{bga}{2}{g117a}{g16r}\Ed{bga}{2}{g117a}{g86r}\Ed{bga}{3}{g86r}{g28}\Ed{bga}{2}{g28}{g16c}\Ed{bga}{2}{g86r}{g16c}\Ed{bga}{2}{g16c}{g117c}\Ed{bga}{2}{g117c}{g16d}
% leaders
\Ld{g57}{113.3}{585}\Ld{g88}{24.3}{643.7}\Ld{g16bot}{153.7}{855}\Ld{g110}{348.3}{626}\Ld{g167}{405}{642}\Ld{g2h}{442.7}{650.3}\Ld{g16}{480.3}{690}\Ld{g16c}{551.3}{781}\Ld{g16d}{459.3}{845}\Ld{g13b}{378.3}{843.7}\Ld{g13a}{351}{820.7}\Ld{g2c}{360.7}{696.7}\Ld{g171}{276.7}{710}\Ld{g43l}{21}{697.7}
% nodes
\allnodes
% labels
\Lab{PL17}{185.3}{565.7}\Lab{PL6}{243.7}{598.3}\Lab{GH150}{281}{580}\Lab{GH43}{358.3}{564}\Lab{GH57}{113.3}{585}\Lab{GH133}{178.3}{621}\Lab{PL29}{91}{610.7}\Lab{GH88}{24.3}{643.7}
\Lab{GH130}{153.3}{669}\Lab{GH26}{95}{691}\Lab{GH43}{21}{697.7}\Lab{GH26}{61.7}{711}\Lab{GH26}{51.7}{733.7}\Lab{GH3}{16.7}{727.3}\Lab{GH2}{65.3}{757.3}\Lab{GH43}{124}{746.3}
\Lab{GH5}{155}{698.7}\Lab{GH5}{231.7}{703.7}\Lab{CE6}{165.7}{738.3}\Lab{CE7}{227.7}{736}\Lab{GH3}{264.7}{740.3}\Lab{GH144}{165}{762.3}\Lab{GH43}{204}{758.7}\Lab{PL40}{114.7}{778.7}\Lab{GH78}{55.7}{780}\Lab{PL33}{119}{811}
\Lab{GH2}{224.7}{800.3}\Lab{GH16}{249.3}{774}\Lab{GH92}{275}{807.7}\Lab{GH30}{317.3}{792.7}\Lab{GH3}{327.3}{757.3}\Lab{GH77}{313.7}{817.7}\Lab{GH13}{351}{820.7}\Lab{GH13}{297.3}{853.3}\Lab{GH13}{378.3}{843.7}\Lab{GH31}{191}{834.7}\Lab{GH16}{153.7}{855}
\Lab{GH171}{276.7}{710}\Lab{GH127}{305.7}{618.3}\Lab{GH127}{341.3}{649}\Lab{GH110}{348.3}{626}\Lab{GH147}{338.3}{685.7}\Lab{GH16}{360.7}{696.7}\Lab{GH2}{295.7}{734}\Lab{GH2}{340.3}{727.3}
\Lab{GH110}{459.7}{571.3}\Lab{GH2}{384.3}{608.3}\Lab{GH167}{405}{642}\Lab{GH3}{455}{625}\Lab{GH2}{442.7}{650.3}\Lab{GH115}{515}{662.7}\Lab{GH20}{380.7}{670.7}\Lab{GH18}{420.7}{673}\Lab{GH16}{480.3}{690}\Lab{GH2}{396.7}{715.3}\Lab{GH20}{435}{725.7}\Lab{GH86}{394}{746.7}\Lab{GH29}{472}{745.7}
\Lab{GH117}{552.7}{690.3}\Lab{GH117}{527.7}{720.7}\Lab{GH16}{611}{724.3}\Lab{GH136}{587}{746.7}\Lab{GH86}{565}{757.7}\Lab{GH28}{491.7}{761}\Lab{GH16}{551.3}{781}\Lab{GH117}{531.7}{805.7}\Lab{GH16}{459.3}{845}
% ---------- network legend
\Txt{555}{562}{east}{8.4}{CAZymes in pairs}\Txt{553}{589.3}{east}{8.4}{Pair frequency}
\addplot[only marks,mark=*,mark size=6.7pt,black,forget plot] coordinates {(571.3,562.3)};
\addplot[only marks,mark=*,mark size=9pt,black,forget plot] coordinates {(615.7,562.3)};
\addplot[only marks,mark=*,mark size=10pt,black,forget plot] coordinates {(659,562.3)};
\addplot[only marks,mark=*,mark size=11.5pt,black,forget plot] coordinates {(702.7,562.3)};
\Txt{593}{562.3}{center}{8.4}{50}\Txt{636.7}{562.3}{center}{8.4}{100}\Txt{680.7}{562.3}{center}{8.4}{150}\Txt{725}{562.3}{center}{8.4}{200}
\addplot[black,line width=4.7pt,forget plot] coordinates {(563,589.7)(580,589.7)};
\addplot[black,line width=9.3pt,forget plot] coordinates {(607,589.7)(624,589.7)};
\addplot[black,line width=14pt,forget plot] coordinates {(651.5,589.7)(668.5,589.7)};
\addplot[black,line width=19pt,forget plot] coordinates {(695,589.7)(712,589.7)};
\Txt{593}{589.7}{center}{8.4}{10}\Txt{637}{589.7}{center}{8.4}{20}\Txt{682}{589.7}{center}{8.4}{30}\Txt{725}{589.7}{center}{8.4}{40}
\Txt{523.3}{635}{center}{8.4}{Substrate}
\newcommand\SWa[4]{\Rect{#1}{#2-6}{#1+11.5}{#2+6}{#3}\pgfmathsetmacro\xt{#1+14.5}\edef\tmp{\noexpand\Txt{\xt}{#2}{west}{8.4}{\unexpanded{#4}}}\tmp}
\SWa{556}{610.7}{alg}{alginate}\SWa{556}{627}{agl}{α−glucan}\SWa{556}{643.3}{ama}{α−mannan}\SWa{556}{660}{bga}{β−galactan}
\SWa{620.3}{610.7}{bgl}{β−glucan}\SWa{620.3}{627}{bma}{β−mannan}\SWa{620.3}{643.3}{bxy}{β−xylan}\SWa{620.3}{660}{fcs}{FCSP}
\SWa{688.3}{610.7}{gag}{GAG}\SWa{688.3}{627}{gal}{galactan}\SWa{688.3}{643.3}{ulv}{ulvan}
\end{axis}
\end{tikzpicture}
\end{document}
